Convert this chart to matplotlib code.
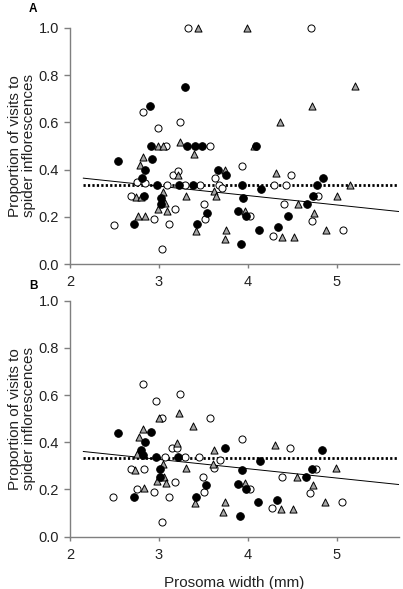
import matplotlib
matplotlib.use("Agg")
import matplotlib.pyplot as plt

plt.rcParams['font.family'] = ['Liberation Sans', 'DejaVu Sans']

# ---- panel A data ----
a_black_x = [2.54, 2.91, 2.92, 2.81, 2.84, 2.83, 2.72, 2.98, 3.02, 3.02, 3.32, 3.41,
             3.48, 3.23, 3.38, 3.54, 3.43, 3.67, 3.75, 3.94, 3.95, 3.89, 3.98, 3.92,
             4.09, 4.15, 4.13, 4.34, 4.45, 4.67, 4.73, 4.78, 4.85, 2.90, 3.29]
a_black_y = [0.438, 0.50, 0.445, 0.365, 0.40, 0.288, 0.17, 0.337, 0.282, 0.253, 0.50, 0.50,
             0.50, 0.337, 0.337, 0.218, 0.17, 0.40, 0.376, 0.337, 0.281, 0.225, 0.204, 0.087,
             0.50, 0.32, 0.147, 0.156, 0.202, 0.253, 0.289, 0.337, 0.365, 0.667, 0.75]

a_tri_x = [2.82, 2.79, 2.74, 2.80, 2.76, 2.84, 2.99, 3.05, 2.99, 3.05, 3.07, 3.09,
           3.24, 3.22, 3.39, 3.31, 3.42, 3.62, 3.64, 3.74, 3.76, 3.74, 4.07, 3.97,
           4.32, 4.38, 4.52, 4.56, 4.74, 4.88, 5.00, 5.15, 3.44, 3.99, 5.21, 4.72, 4.36]
a_tri_y = [0.453, 0.418, 0.284, 0.286, 0.204, 0.204, 0.50, 0.50, 0.232, 0.306, 0.257, 0.226,
           0.517, 0.376, 0.465, 0.288, 0.142, 0.309, 0.288, 0.40, 0.147, 0.105, 0.50, 0.225,
           0.387, 0.115, 0.115, 0.253, 0.218, 0.147, 0.289, 0.337, 1.0, 1.0, 0.754, 0.669, 0.603]

a_open_x = [2.49, 2.69, 2.75, 2.84, 2.94, 3.03, 3.08, 3.09, 3.11, 3.16, 3.21, 3.18,
            3.29, 3.46, 3.51, 3.52, 3.58, 3.63, 3.68, 3.71, 3.94, 4.03, 4.30, 4.28,
            4.41, 4.43, 4.49, 4.72, 4.79, 5.07, 3.33, 4.71, 2.82, 2.99, 3.24]
a_open_y = [0.168, 0.287, 0.348, 0.344, 0.19, 0.063, 0.50, 0.337, 0.17, 0.376, 0.393, 0.233,
            0.337, 0.337, 0.253, 0.19, 0.50, 0.365, 0.337, 0.323, 0.414, 0.204, 0.337, 0.121,
            0.253, 0.337, 0.376, 0.184, 0.288, 0.145, 1.0, 1.0, 0.644, 0.574, 0.603]

# ---- panel B data ----
b_black_x = [2.54, 2.91, 2.80, 2.84, 2.82, 2.72, 2.97, 3.01, 3.01, 3.22, 3.42, 3.53,
             3.74, 3.94, 3.89, 3.98, 3.91, 4.14, 4.12, 4.33, 4.66, 4.72, 4.84]
b_black_y = [0.44, 0.445, 0.366, 0.403, 0.347, 0.17, 0.336, 0.285, 0.252, 0.337, 0.169, 0.218,
             0.377, 0.282, 0.225, 0.20, 0.087, 0.322, 0.145, 0.156, 0.253, 0.287, 0.366]

b_tri_x = [2.78, 2.82, 2.75, 2.73, 2.83, 2.98, 3.00, 3.05, 3.06, 3.08, 3.20, 3.23,
           3.38, 3.30, 3.41, 3.62, 3.61, 3.74, 3.72, 3.97, 4.31, 4.37, 4.51, 4.55,
           4.73, 4.87, 4.99]
b_tri_y = [0.422, 0.458, 0.352, 0.284, 0.205, 0.236, 0.505, 0.308, 0.252, 0.228, 0.397, 0.522,
           0.468, 0.29, 0.143, 0.367, 0.309, 0.147, 0.105, 0.227, 0.387, 0.116, 0.116, 0.253,
           0.217, 0.147, 0.29]

b_open_x = [2.48, 2.69, 2.83, 2.75, 2.94, 3.03, 3.07, 3.11, 3.15, 3.20, 3.18, 3.29,
            3.45, 3.50, 3.51, 3.62, 3.69, 3.94, 4.02, 4.27, 4.39, 4.48, 4.70, 4.77,
            5.06, 2.82, 2.97, 3.24, 3.04, 3.57]
b_open_y = [0.168, 0.285, 0.285, 0.20, 0.19, 0.062, 0.337, 0.169, 0.377, 0.377, 0.233, 0.337,
            0.337, 0.253, 0.19, 0.29, 0.325, 0.414, 0.20, 0.122, 0.253, 0.377, 0.186, 0.287,
            0.147, 0.647, 0.576, 0.605, 0.505, 0.505]

# regression line ends and the 1/3 reference level
fit_x = [2.15, 5.7]
fit_y_a = [0.364, 0.223]
fit_y_b = [0.361, 0.221]
chance = 1 / 3

x_ticks = [2, 3, 4, 5]
y_ticks = [0.0, 0.2, 0.4, 0.6, 0.8, 1.0]

fig = plt.figure(figsize=(4.03, 5.89), dpi=100)
ax_a = fig.add_axes([0.1737, 0.5513, 0.8161, 0.4017])
ax_b = fig.add_axes([0.1737, 0.0888, 0.8161, 0.4007])

panels = [
    (ax_a, a_black_x, a_black_y, a_tri_x, a_tri_y, a_open_x, a_open_y, fit_y_a, 'A', 1.078),
    (ax_b, b_black_x, b_black_y, b_tri_x, b_tri_y, b_open_x, b_open_y, fit_y_b, 'B', 1.063),
]

for ax, bx, by, tx, ty, ox, oy, fy, tag, tag_y in panels:
    ax.plot(fit_x, [chance, chance], color='black', lw=2.0,
            linestyle=(0, (0.8, 0.8)), zorder=2)
    ax.plot(fit_x, fy, color='black', lw=0.7, zorder=2)
    ax.scatter(ox, oy, s=26, facecolor='white', edgecolor='black',
               linewidth=0.7, marker='o', zorder=3, clip_on=False)
    ax.scatter(tx, ty, s=26, facecolor='#a6a6a6', edgecolor='black',
               linewidth=0.7, marker='^', zorder=3, clip_on=False)
    ax.scatter(bx, by, s=30, facecolor='black', edgecolor='black',
               linewidth=0.7, marker='o', zorder=4, clip_on=False)

    ax.set_xlim(2, 5.7)
    ax.set_ylim(0, 1.0)
    ax.set_xticks(x_ticks)
    ax.set_xticklabels([str(t) for t in x_ticks])
    ax.set_yticks(y_ticks)
    ax.set_yticklabels([f"{t:.1f}" for t in y_ticks])
    for side in ['top', 'right']:
        ax.spines[side].set_visible(False)
    for side in ['left', 'bottom']:
        ax.spines[side].set_color('#7f7f7f')
        ax.spines[side].set_linewidth(1.0)
    ax.tick_params(axis='both', colors='#7f7f7f', labelcolor='#222222',
                   labelsize=10.5, width=1.0)
    ax.tick_params(axis='y', length=4, pad=4)
    ax.tick_params(axis='x', length=3, pad=5)
    ax.set_ylabel("Proportion of visits to\nspider inflorescences",
                  fontsize=11, color='#222222', linespacing=1.0)
    ax.yaxis.set_label_coords(-0.104, 0.5)
    ax.text(-0.112, tag_y, tag, transform=ax.transAxes,
            fontsize=8.5, fontweight='bold', ha='center', va='center')

ax_b.set_xlabel("Prosoma width (mm)", fontsize=11, color='#222222', labelpad=10)

fig.savefig("out.png", dpi=100)
